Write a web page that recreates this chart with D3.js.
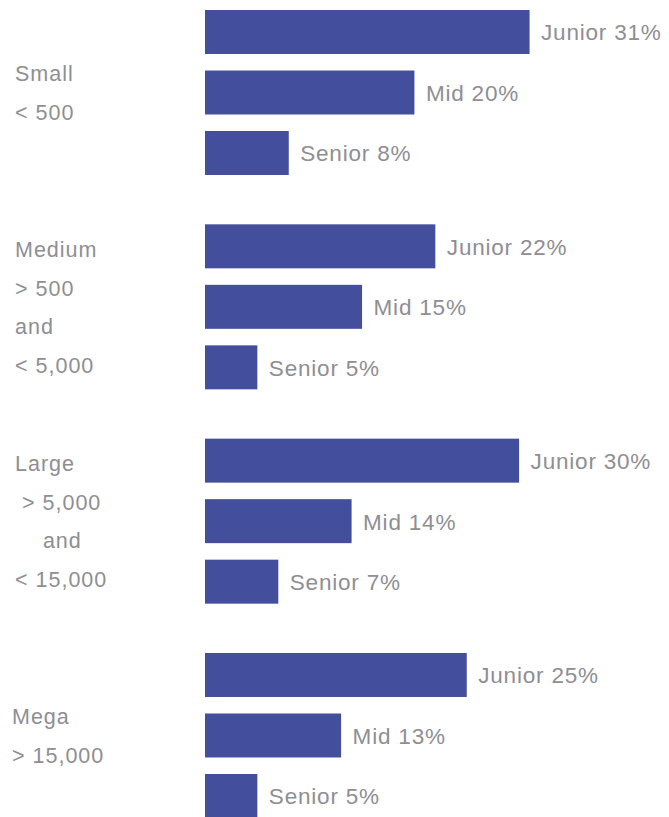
<!DOCTYPE html>
<meta charset="utf-8">
<style>
body { margin: 0; background: #fff; }
text { font-family: "Liberation Sans", Arial, sans-serif; fill: #8e8e93; white-space: pre; }
</style>
<body>
<div id="chart"></div>
<script src="https://d3js.org/d3.v7.min.js"></script>
<script>
// data
var groups = ["Small", "Medium", "Large", "Mega"];
var groupLabels = [
  ["Small", "< 500"],
  ["Medium", "> 500", "and", "< 5,000"],
  ["Large", " > 5,000", "    and", "< 15,000"],
  ["Mega", "> 15,000"]
];
var levels = ["Junior", "Mid", "Senior"];
var juniorPct = [31, 22, 30, 25];
var midPct = [20, 15, 14, 13];
var seniorPct = [8, 5, 7, 5];

var w = 669, h = 817;
var labelX = [15, 15, 15, 12];

var rows = [];
groups.forEach(function(g, i) {
  rows.push({group: g, level: "Junior", value: juniorPct[i]});
  rows.push({group: g, level: "Mid", value: midPct[i]});
  rows.push({group: g, level: "Senior", value: seniorPct[i]});
});

var svg = d3.select("#chart").append("svg")
    .attr("width", w)
    .attr("height", h);

var x = d3.scaleLinear().domain([0, 10]).range([205, 309.7]);

var yGroup = d3.scaleBand().domain(groups).range([10, 10 + 4 * 214.33]);
var yLevel = d3.scaleBand().domain(levels).range([0, 165]).paddingInner(0.273);

var bar = svg.append("g").selectAll("g")
  .data(rows)
  .enter().append("g")
    .attr("transform", function(d) { return "translate(0," + (yGroup(d.group) + yLevel(d.level)) + ")"; });

bar.append("rect")
    .attr("x", x(0))
    .attr("width", function(d) { return x(d.value) - x(0); })
    .attr("height", yLevel.bandwidth())
    .attr("fill", "#434e9d");

bar.append("text")
    .attr("x", function(d) { return x(d.value) + 11.5; })
    .attr("y", yLevel.bandwidth() / 2 + 1)
    .attr("dominant-baseline", "central")
    .style("font-size", "22.5px")
    .style("letter-spacing", "0.8px")
    .text(function(d) { return d.level + " " + d.value + "%"; });

// category labels on the left, centred on each group
var lineH = 38.5;
groups.forEach(function(g, i) {
  var lines = groupLabels[i];
  var mid = yGroup(g) + 165 / 2;
  var top = mid - (lines.length - 1) * lineH / 2;
  svg.append("g").selectAll("text")
    .data(lines)
    .enter().append("text")
      .attr("x", labelX[i])
      .attr("y", function(d, j) { return top + j * lineH + 1; })
      .attr("dominant-baseline", "central")
      .style("font-size", "21.5px")
      .style("letter-spacing", "1px")
      .text(function(d) { return d; });
});
</script>
</body>
